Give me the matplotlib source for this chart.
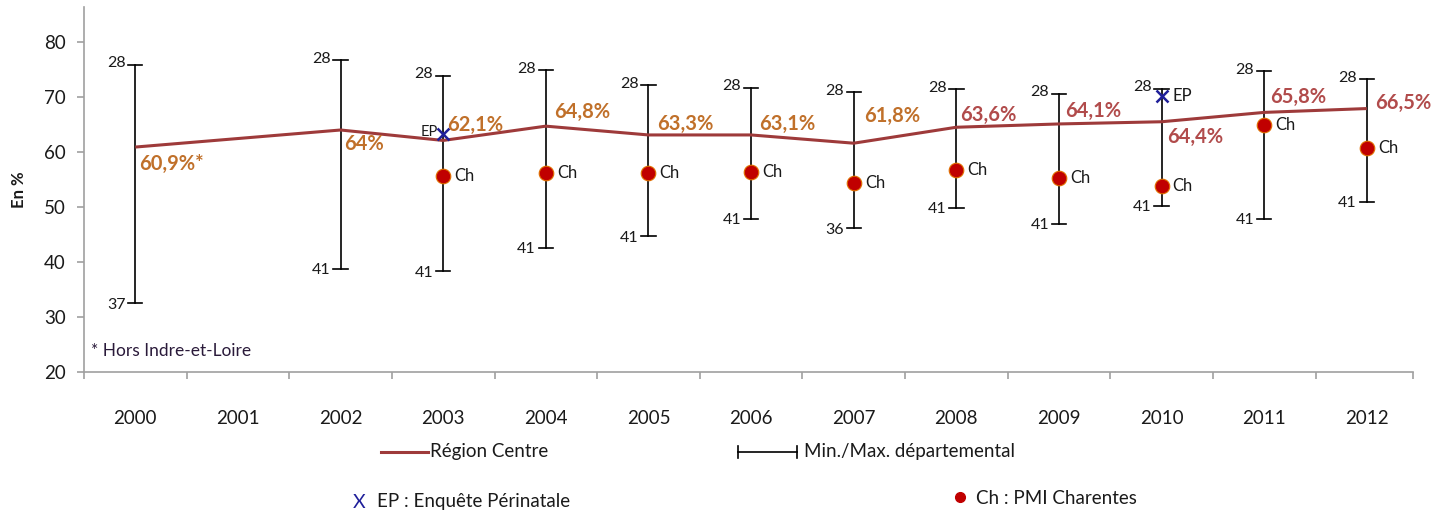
import matplotlib
matplotlib.use("Agg")
import matplotlib.pyplot as plt
from matplotlib.lines import Line2D
import numpy as np

plt.rcParams['font.family'] = ['Lato', 'DejaVu Sans']

# ---- data ----
years = ["2000", "2001", "2002", "2003", "2004", "2005", "2006",
         "2007", "2008", "2009", "2010", "2011", "2012"]
region_centre = [60.9, None, 64.0, 62.1, 64.7, 63.1, 63.1, 61.6, 64.5, 65.1, 65.5, 67.2, 67.9]
region_labels = ["60,9%*", None, "64%", "62,1%", "64,8%", "63,3%", "63,1%",
                 "61,8%", "63,6%", "64,1%", "64,4%", "65,8%", "66,5%"]
dept_max = [75.9, None, 76.7, 73.9, 74.9, 72.1, 71.7, 70.9, 71.4, 70.6, 71.5, 74.7, 73.2]
dept_min = [32.5, None, 38.8, 38.3, 42.6, 44.7, 47.8, 46.1, 49.9, 47.0, 50.2, 47.8, 51.0]
dept_max_code = ["28", None, "28", "28", "28", "28", "28", "28", "28", "28", "28", "28", "28"]
dept_min_code = ["37", None, "41", "41", "41", "41", "41", "36", "41", "41", "41", "41", "41"]
pmi_charentes = [None, None, None, 55.6, 56.1, 56.2, 56.4, 54.4, 56.8, 55.3, 53.9, 64.9, 60.8]
enquete_perinatale = [None, None, None, 63.3, None, None, None, None, None, None, 70.1, None, None]

# ---- styles ----
line_col = "#9E3A3A"
lab_orange = "#C0702A"
lab_red = "#B14B4B"
dot_col = "#C00000"
ep_col = "#1F1F9A"
axis_col = "#A0A0A0"
txt_col = "#1A1A1A"

W, H = 1453, 518
fig = plt.figure(figsize=(W / 100, H / 100), dpi=100)
ax = fig.add_axes([84 / W, 1 - 372 / H, (1413 - 84) / W, (372 - 7) / H])

x = np.arange(len(years))
x_right = len(years) - 0.55
ax.set_xlim(-0.5, x_right)
ax.set_ylim(20, 20 + (372 - 7) / 5.5)

# region line (skip missing)
xs = [i for i, v in enumerate(region_centre) if v is not None]
ys = [region_centre[i] for i in xs]
ax.plot(xs, ys, color=line_col, lw=2.2, zorder=3, solid_capstyle='butt')

# error bars min/max
for i in range(len(years)):
    if dept_max[i] is None:
        continue
    ax.plot([i, i], [dept_min[i], dept_max[i]], color="black", lw=1.2, zorder=2)
    for yv in (dept_min[i], dept_max[i]):
        ax.plot([i - 0.07, i + 0.07], [yv, yv], color="black", lw=1.2, zorder=2)
    ax.annotate(dept_max_code[i], (i - 0.07, dept_max[i]), xytext=(-2, 1),
                textcoords='offset points', ha='right', va='center',
                fontsize=11.5, color=txt_col)
    ax.annotate(dept_min_code[i], (i - 0.07, dept_min[i]), xytext=(-2, -1),
                textcoords='offset points', ha='right', va='center',
                fontsize=11.5, color=txt_col)

# PMI Charentes points
for i, v in enumerate(pmi_charentes):
    if v is None:
        continue
    ax.plot(i, v, 'o', ms=10.5, color=dot_col, mec="#E07000", mew=0.8, zorder=4)
    ax.annotate("Ch", (i, v), xytext=(8, 0), textcoords='offset points',
                ha='left', va='center', fontsize=12, color=txt_col)

# Enquete perinatale
for i, v in enumerate(enquete_perinatale):
    if v is None:
        continue
    ax.plot(i, v, marker='x', ms=8, mew=1.8, color=ep_col, ls='none', zorder=5)
ep_label_off = {3: (-4, 1, 'right'), 10: (8, 0, 'left')}
for i, v in enumerate(enquete_perinatale):
    if v is None:
        continue
    dx, dy, ha = ep_label_off[i]
    ax.annotate("EP", (i, v), xytext=(dx, dy), textcoords='offset points',
                ha=ha, va='center', fontsize=10.5 if i == 3 else 12, color=txt_col)

# region value labels: offsets in pixels (dx, dy) from point, left-aligned
lab_off = {0: (4, -17), 2: (4, -14), 3: (4, 15), 4: (8, 14), 5: (9, 11),
           6: (8, 11), 7: (10, 27), 8: (4, 12), 9: (6, 13), 10: (6, -15),
           11: (6, 15), 12: (8, 6)}
for i, lab in enumerate(region_labels):
    if lab is None:
        continue
    dx, dy = lab_off[i]
    col = lab_orange if i <= 7 else lab_red
    ax.annotate(lab, (i, region_centre[i]), xytext=(dx * 0.72, dy * 0.72),
                textcoords='offset points', ha='left', va='center',
                fontsize=14.5, fontweight='bold', color=col, zorder=6)

# axes styling
for s in ['top', 'right']:
    ax.spines[s].set_visible(False)
for s in ['left', 'bottom']:
    ax.spines[s].set_color(axis_col)
    ax.spines[s].set_linewidth(1.2)
ax.set_yticks([20, 30, 40, 50, 60, 70, 80])
ax.tick_params(axis='y', colors=axis_col, labelcolor=txt_col, labelsize=13.5,
               length=5, width=1.2, pad=8)
ax.set_xticks(x)
ax.set_xticklabels(years)
ax.set_xticks(list(np.arange(-0.5, len(years) - 1, 1)) + [x_right], minor=True)
ax.tick_params(axis='x', which='major', length=0, labelsize=13.5,
               labelcolor=txt_col, pad=27)
ax.tick_params(axis='x', which='minor', length=5, width=1.2, colors=axis_col,
               direction='out')

ax.set_ylabel("En %", fontsize=12, fontweight='bold', color=txt_col)
ax.yaxis.set_label_coords(-0.043, 0.5)

ax.text(0.005, 0.035, "* Hors Indre-et-Loire", transform=ax.transAxes,
        fontsize=12.5, color="#2A1A3A", ha='left', va='bottom')

# ---- legend (figure coords in pixels) ----
def fx(px):
    return px / W

def fy(py):
    return 1 - py / H

leg_fs = 13.5
fig.add_artist(Line2D([fx(381), fx(428)], [fy(452), fy(452)], color=line_col, lw=2.2))
fig.text(fx(430), fy(452), "Région Centre", fontsize=leg_fs, va='center', ha='left', color=txt_col)
fig.add_artist(Line2D([fx(738), fx(797)], [fy(452), fy(452)], color="black", lw=1.2))
fig.add_artist(Line2D([fx(738), fx(738)], [fy(446), fy(458)], color="black", lw=1.2))
fig.add_artist(Line2D([fx(797), fx(797)], [fy(446), fy(458)], color="black", lw=1.2))
fig.text(fx(804), fy(452), "Min./Max. départemental", fontsize=leg_fs, va='center', ha='left', color=txt_col)
fig.text(fx(359), fy(502), "X", fontsize=14, va='center', ha='center', color=ep_col)
fig.text(fx(377), fy(502), "EP : Enquête Périnatale", fontsize=leg_fs, va='center', ha='left', color=txt_col)
fig.add_artist(Line2D([fx(960)], [fy(497)], marker='o', ms=7, color=dot_col, ls='none'))
fig.text(fx(976), fy(498), "Ch : PMI Charentes", fontsize=leg_fs, va='center', ha='left', color=txt_col)

fig.savefig("out.png", dpi=100)
